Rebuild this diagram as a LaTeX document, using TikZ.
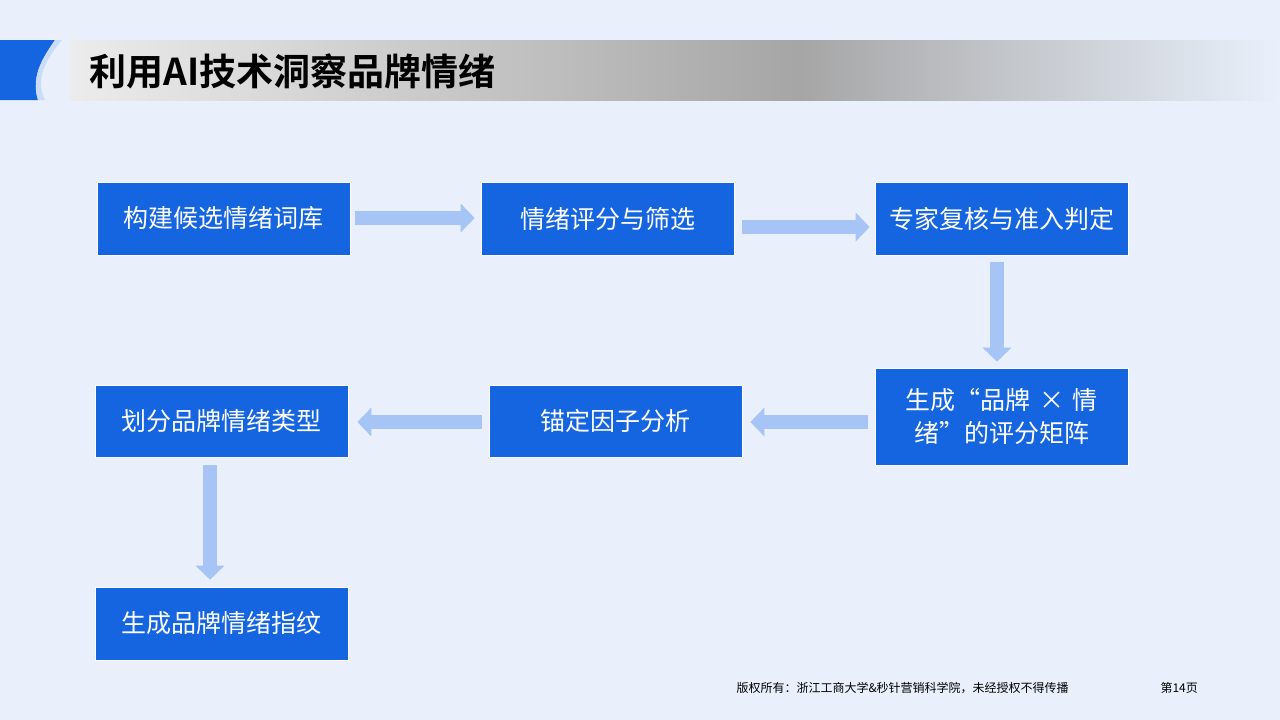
\documentclass[tikz,border=0pt]{standalone}
\usepackage{fontspec}
\setmainfont{Noto Sans CJK SC}
\newfontfamily\cjkb{Noto Sans CJK SC Bold}
\usetikzlibrary{arrows.meta}
\definecolor{bg}{HTML}{E9F0FB}
\definecolor{boxb}{HTML}{1565E0}
\definecolor{arr}{HTML}{A6C4F5}
\begin{document}
\begin{tikzpicture}[x=1pt,y=-1pt,
  box/.style={fill=boxb,draw=white,line width=0.6pt,text=white,font=\fontsize{25}{33}\selectfont,inner sep=0,align=center},
  ba/.style={draw=arr,line width=14pt,-{Triangle[width=28pt,length=14pt]}}]
\useasboundingbox (0,0) rectangle (1280,720);
\fill[bg] (0,0) rectangle (1280,720);
% header
\shade[left color=white!85!gray,right color=gray!70] (70,40) rectangle (800,100);
\shade[left color=gray!70,right color=bg] (800,40) rectangle (1280,100);
\fill[boxb] (0,40) -- (55,40) .. controls (45,55) and (30,75) .. (38,100) -- (0,100) -- cycle;
\fill[arr!60] (55,40) -- (62,40) .. controls (45,60) and (35,80) .. (45,100) -- (38,100) .. controls (30,75) and (45,55) .. (55,40) -- cycle;
\node[anchor=west,font=\cjkb\fontsize{37}{40}\selectfont] (title) at (86,71) {利用AI技术洞察品牌情绪};
% boxes
\node[box,minimum width=253,minimum height=73] (b1) at (223.5,218.5) {构建候选情绪词库};
\node[box,minimum width=253,minimum height=73] (b2) at (607.5,218.5) {情绪评分与筛选};
\node[box,minimum width=253,minimum height=73] (b3) at (1001.5,218.5) {专家复核与准入判定};
\node[box,minimum width=253,minimum height=97,text width=230] (b4) at (1001.5,416.5) {生成“品牌\ ×\ 情\\绪”的评分矩阵};
\node[box,minimum width=253,minimum height=72] (b5) at (615.5,421) {锚定因子分析};
\node[box,minimum width=253,minimum height=72] (b6) at (221.5,421) {划分品牌情绪类型};
\node[box,minimum width=253,minimum height=73] (b7) at (221.5,623.5) {生成品牌情绪指纹};
% arrows
\draw[ba] ([xshift=5]b1.east|-0,218) -- ([xshift=-6]b2.west|-0,218);
\draw[ba] ([xshift=8]b2.east|-0,227) -- ([xshift=-5]b3.west|-0,227);
\draw[ba] ([yshift=-7]b3.south-|997,0) -- ([yshift=6]b4.north-|997,0);
\draw[ba] ([xshift=-7]b4.west|-0,422) -- ([xshift=8]b5.east|-0,422);
\draw[ba] ([xshift=-7]b5.west|-0,422) -- ([xshift=9]b6.east|-0,422);
\draw[ba] ([yshift=-8]b6.south-|210,0) -- ([yshift=7]b7.north-|210,0);
% footer
\node[anchor=west,font=\fontsize{12}{14}\selectfont] (ft) at (733,688) {版权所有：浙江工商大学\&秒针营销科学院，未经授权不得传播};
\node[anchor=west,font=\fontsize{12}{14}\selectfont] (pg) at (1157,688) {第14页};
\end{tikzpicture}
\end{document}
